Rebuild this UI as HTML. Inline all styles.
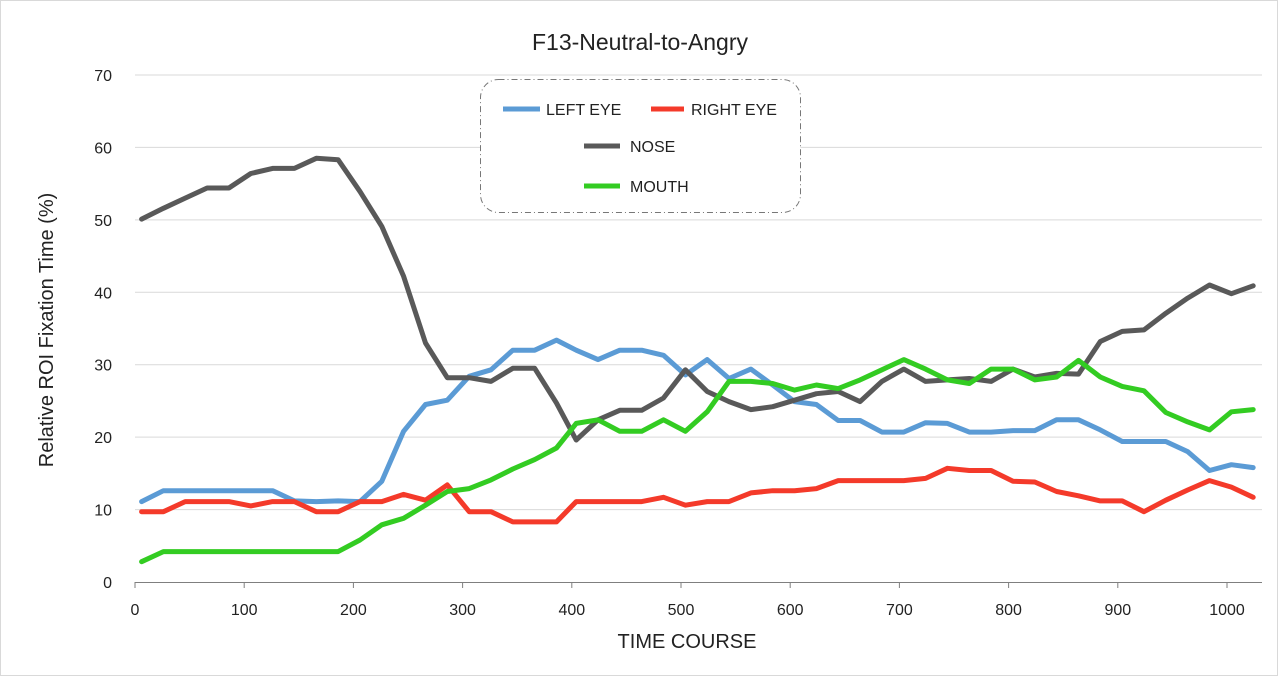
<!DOCTYPE html>
<html><head><meta charset="utf-8"><style>
html,body{margin:0;padding:0;background:#fff;}
svg{display:block;font-family:"Liberation Sans",sans-serif;}
</style></head><body>
<svg id="chart" width="1278" height="676" viewBox="0 0 1278 676">
<rect x="0.5" y="0.5" width="1277" height="675" fill="#fff" stroke="#d9d9d9"/>
<text x="640" y="50" text-anchor="middle" font-size="23" fill="#222">F13-Neutral-to-Angry</text>
<g id="grid"></g>
<g id="yticks"></g>
<g id="xticks"></g>
<text transform="translate(53,330) rotate(-90)" text-anchor="middle" font-size="20" fill="#222">Relative  ROI  Fixation  Time  (%)</text>
<text x="687" y="648" text-anchor="middle" font-size="20" fill="#222">TIME  COURSE</text>
<g id="series"></g>
<g>
<rect x="480.5" y="79.5" width="320" height="133" rx="18" fill="#fff" stroke="#777" stroke-dasharray="6,3,1,3"/>
<g><line x1="503" y1="109" x2="540" y2="109" stroke="#5b9bd5" stroke-width="5"/><text x="546" y="115" font-size="16" fill="#222">LEFT EYE</text></g>
<g><line x1="651" y1="109" x2="684" y2="109" stroke="#f43a2a" stroke-width="5"/><text x="691" y="115" font-size="16" fill="#222">RIGHT EYE</text></g>
<g><line x1="584" y1="146" x2="620" y2="146" stroke="#595959" stroke-width="5"/><text x="630" y="152" font-size="16" fill="#222">NOSE</text></g>
<g><line x1="584" y1="186" x2="620" y2="186" stroke="#33cc22" stroke-width="5"/><text x="630" y="192" font-size="16" fill="#222">MOUTH</text></g>
</g>
</svg>
<script>
const timePoints = [6,26,46,66,86,106,126,146,166,186,206,226,246,266,286,306,326,346,366,386,404,424,444,464,484,504,524,544,564,584,604,624,644,664,684,704,724,744,764,784,804,824,844,864,884,904,924,944,964,984,1004,1024];
const leftEye = [11.1,12.6,12.6,12.6,12.6,12.6,12.6,11.2,11.1,11.2,11.1,13.9,20.8,24.5,25.1,28.4,29.3,32.0,32.0,33.4,32.0,30.7,32.0,32.0,31.3,28.6,30.7,28.1,29.4,27.2,24.9,24.5,22.3,22.3,20.7,20.7,22.0,21.9,20.7,20.7,20.9,20.9,22.4,22.4,21.0,19.4,19.4,19.4,18.0,15.4,16.2,15.8];
const rightEye = [9.7,9.7,11.1,11.1,11.1,10.5,11.1,11.1,9.7,9.7,11.1,11.1,12.1,11.3,13.4,9.7,9.7,8.3,8.3,8.3,11.1,11.1,11.1,11.1,11.7,10.6,11.1,11.1,12.3,12.6,12.6,12.9,14.0,14.0,14.0,14.0,14.3,15.7,15.4,15.4,13.9,13.8,12.5,11.9,11.2,11.2,9.7,11.3,12.7,14.0,13.1,11.7];
const nose = [50.1,51.6,53.0,54.4,54.4,56.4,57.1,57.1,58.5,58.3,53.9,49.1,42.2,33.0,28.2,28.2,27.7,29.5,29.5,24.7,19.6,22.4,23.7,23.7,25.4,29.3,26.3,24.9,23.8,24.2,25.1,26.0,26.3,24.9,27.7,29.4,27.7,27.9,28.1,27.7,29.4,28.3,28.8,28.7,33.2,34.6,34.8,37.1,39.2,41.0,39.8,40.9];
const mouth = [2.8,4.2,4.2,4.2,4.2,4.2,4.2,4.2,4.2,4.2,5.8,7.9,8.8,10.6,12.5,12.9,14.1,15.6,16.9,18.5,21.9,22.4,20.8,20.8,22.4,20.8,23.5,27.7,27.7,27.4,26.5,27.2,26.7,27.9,29.3,30.7,29.4,27.9,27.4,29.4,29.4,27.9,28.3,30.6,28.3,27.0,26.4,23.4,22.1,21.0,23.5,23.8];
const yTickLabels = [0,10,20,30,40,50,60,70];
const xTickLabels = [0,100,200,300,400,500,600,700,800,900,1000];

const NS = "http://www.w3.org/2000/svg";
const X0 = 135, XS = 1.092, Y0 = 582, YS = 7.243, XR = 1262;
function xp(v){ return X0 + v * XS; }
function yp(v){ return Y0 - v * YS; }
function mk(tag, attrs, parent){ const e = document.createElementNS(NS, tag); for (const k in attrs) e.setAttribute(k, attrs[k]); parent.appendChild(e); return e; }

const grid = document.getElementById('grid');
const yt = document.getElementById('yticks');
yTickLabels.forEach(v => {
  if (v > 0) {
    const g = mk('line', {x1: X0, x2: XR, y1: yp(v), y2: yp(v), stroke: '#d9d9d9', 'stroke-width': 1}, grid);
    
    
  }
  const t = mk('text', {x: 112, y: yp(v) + 6, 'text-anchor': 'end', 'font-size': 16, fill: '#222'}, yt);
  t.textContent = v;
  
  
});
const xt = document.getElementById('xticks');
const ax = mk('line', {x1: X0, x2: XR, y1: Y0 + 0.5, y2: Y0 + 0.5, stroke: '#7f7f7f', 'stroke-width': 1}, xt);


xTickLabels.forEach(v => {
  mk('line', {x1: xp(v), x2: xp(v), y1: Y0, y2: Y0 + 6, stroke: '#7f7f7f', 'stroke-width': 1}, xt);
  const t = mk('text', {x: xp(v), y: 615, 'text-anchor': 'middle', 'font-size': 16, fill: '#222'}, xt);
  t.textContent = v;
  
  
});
const sg = document.getElementById('series');
[[leftEye, '#5b9bd5', 'left-eye-line'], [rightEye, '#f43a2a', 'right-eye-line'], [nose, '#595959', 'nose-line'], [mouth, '#33cc22', 'mouth-line']].forEach(([d, c, n]) => {
  const pts = d.map((v, i) => xp(timePoints[i]).toFixed(1) + ',' + yp(v).toFixed(1)).join(' ');
  const pl = mk('polyline', {points: pts, fill: 'none', stroke: c, 'stroke-width': 5, 'stroke-linejoin': 'round', 'stroke-linecap': 'round'}, sg);
  
  
});
</script>
</body></html>
